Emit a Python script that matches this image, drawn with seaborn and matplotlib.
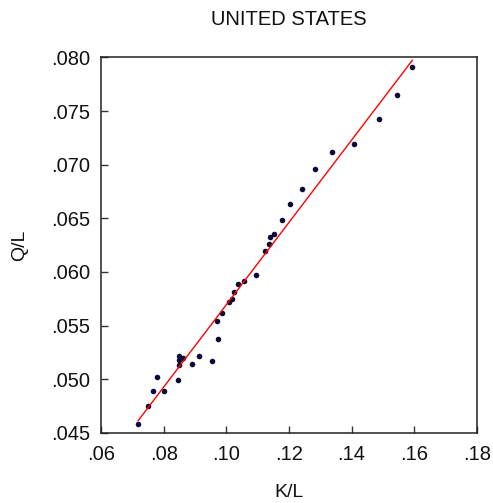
import pandas as pd
import matplotlib
matplotlib.use("Agg")
import matplotlib.pyplot as plt
import seaborn as sns

# ================================
# Data
# ================================
kl = [0.0718, 0.0750, 0.0765, 0.0778, 0.0800, 0.0845, 0.0848, 0.0850, 0.0850,
      0.0861, 0.0891, 0.0914, 0.0954, 0.0972, 0.0970, 0.0985, 0.1008, 0.1018,
      0.1023, 0.1037, 0.1057, 0.1094, 0.1124, 0.1136, 0.1139, 0.1153, 0.1178,
      0.1204, 0.1240, 0.1283, 0.1336, 0.1407, 0.1486, 0.1544, 0.1594]
ql = [0.0458, 0.0475, 0.0489, 0.0502, 0.0489, 0.0499, 0.0513, 0.0518, 0.0522,
      0.0520, 0.0514, 0.0522, 0.0517, 0.0538, 0.0554, 0.0562, 0.0572, 0.0575,
      0.0581, 0.0589, 0.0592, 0.0597, 0.0620, 0.0626, 0.0633, 0.0635, 0.0648,
      0.0663, 0.0677, 0.0696, 0.0712, 0.0719, 0.0743, 0.0765, 0.0791]

x_ticks = [0.06, 0.08, 0.10, 0.12, 0.14, 0.16, 0.18]
x_labels = [".06", ".08", ".10", ".12", ".14", ".16", ".18"]
y_ticks = [0.045, 0.050, 0.055, 0.060, 0.065, 0.070, 0.075, 0.080]
y_labels = [".045", ".050", ".055", ".060", ".065", ".070", ".075", ".080"]

df = pd.DataFrame({"K/L": kl, "Q/L": ql})

# ================================
# Plot
# ================================
sns.set_theme(style="white")
plt.rcParams["font.family"] = ["Liberation Sans", "DejaVu Sans"]

fig = plt.figure(figsize=(4.93, 5.03), dpi=100)
ax = fig.add_axes([0.2049, 0.1392, 0.7625, 0.7468])

sns.regplot(data=df, x="K/L", y="Q/L", ax=ax, ci=None,
            scatter_kws={"s": 16, "color": "#0a0a3a", "linewidths": 0, "alpha": 1},
            line_kws={"color": "red", "linewidth": 1.0})

ax.set_xlim(0.06, 0.18)
ax.set_ylim(0.045, 0.080)
ax.set_xticks(x_ticks)
ax.set_xticklabels(x_labels)
ax.set_yticks(y_ticks)
ax.set_yticklabels(y_labels)
ax.tick_params(axis="both", direction="in", length=5, width=1, color="#333333",
               labelsize=14.5, labelcolor="#111111", bottom=True, left=True,
               top=False, right=False)
ax.tick_params(axis="y", pad=8)
ax.tick_params(axis="x", pad=9)

for side in ax.spines.values():
    side.set_color("#222222")
    side.set_linewidth(1.1)

ax.set_xlabel("K/L", fontsize=14, labelpad=14, color="#111111")
ax.set_ylabel("Q/L", fontsize=14, labelpad=16, color="#111111")
ax.set_title("UNITED STATES", fontsize=14.5, pad=23, color="#111111")

fig.savefig("out.png", dpi=100)
